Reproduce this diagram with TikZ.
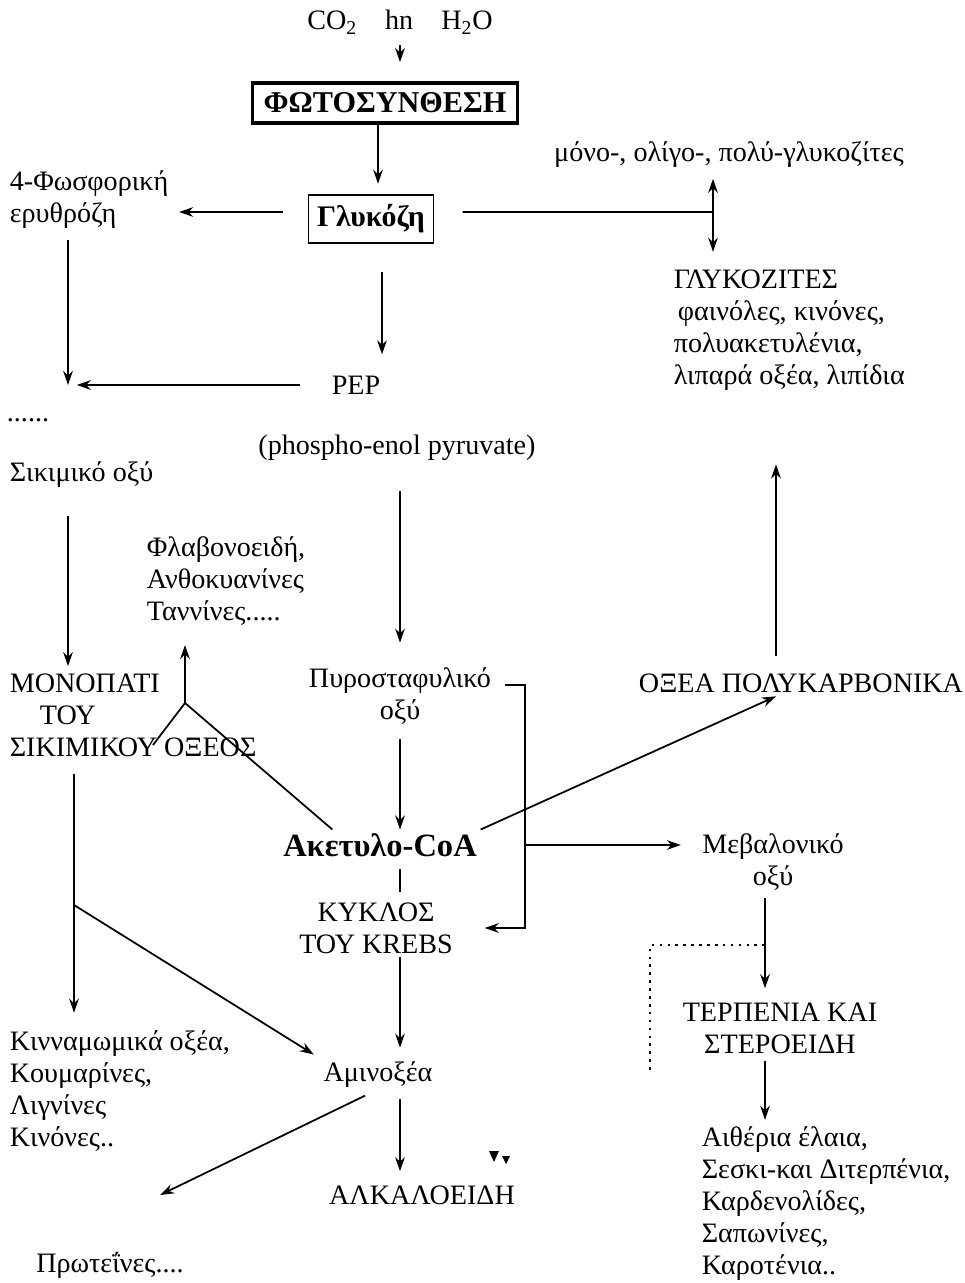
\documentclass[tikz,border=0pt]{standalone}
\usepackage{fontspec}
\setmainfont{Liberation Serif}
\usetikzlibrary{arrows.meta}

\begin{document}
\begin{tikzpicture}[x=0.02cm,y=-0.02cm,
          font=\fontsize{16}{18.2}\selectfont,
          txt/.style={inner sep=2pt},
          blk/.style={inner sep=2pt,align=left,anchor=west},
          box/.style={draw,inner sep=0pt,font=\fontsize{16}{18.2}\selectfont\bfseries},
          arr/.style={line width=1pt,-{Stealth[length=8pt,width=5.5pt]}},
          ln/.style={line width=1pt},
          dotln/.style={line width=1pt,dash pattern=on 1.5pt off 3pt}]
        \useasboundingbox (0,0) rectangle (964,1283);
        % top row
        \node[txt] (co2)   at (400,22)  {CO\textsubscript{2}\quad hn\quad H\textsubscript{2}O};
        \node[box,line width=1.8pt,minimum width=5.3cm,minimum height=0.8cm,font=\fontsize{17.2}{20}\selectfont\bfseries] (photo) at (385,103) {ΦΩΤΟΣΥΝΘΕΣΗ};
        \node[box,line width=1.1pt,minimum width=2.5cm,minimum height=0.95cm,font=\fontsize{17}{19}\selectfont\bfseries] (gluc) at (371,219) {Γλυκόζη};
        \node[blk] (fosf) at (6,200) {4-Φωσφορική\\ερυθρόζη};
        \node[txt] (glyk) at (729,155) {μόνο-, ολίγο-, πολύ-γλυκοζίτες};
        \node[blk] (glykoz) at (670,330) {ΓΛΥΚΟΖΙΤΕΣ\\\hspace*{0.08cm}φαινόλες, κινόνες,\\πολυακετυλένια,\\λιπαρά οξέα, λιπίδια};
        \node[txt] (pep)   at (356,385) {PEP};
        \node[txt] (dots)  at (28,420)  {......};
        \node[txt] (phos)  at (397,448) {(phospho-enol pyruvate)};
        \node[blk] (sikim) at (6,475)   {Σικιμικό οξύ};
        % middle
        \node[blk] (flav)  at (143,581) {Φλαβονοειδή,\\Ανθοκυανίνες\\Ταννίνες.....};
        \node[blk] (mono)  at (6,715)   {ΜΟΝΟΠΑΤΙ\\\hspace*{0.6cm}ΤΟΥ\\ΣΙΚΙΜΙΚΟΥ ΟΞΕΟΣ};
        \node[txt,align=center] (pyr) at (400,696) {Πυροσταφυλικό\\οξύ};
        \node[txt] (oxea)  at (801,683) {ΟΞΕΑ ΠΟΛΥΚΑΡΒΟΝΙΚΑ};
        \node[txt,font=\fontsize{18.5}{20}\selectfont\bfseries] (acet) at (380,845) {Ακετυλο-CoA};
        \node[txt,align=center] (meval) at (773,862) {Μεβαλονικό\\οξύ};
        \node[txt,align=center] (krebs) at (376,928) {ΚΥΚΛΟΣ\\ΤΟΥ KREBS};
        % bottom
        \node[blk] (kinn)  at (6,1091)  {Κινναμωμικά οξέα,\\Κουμαρίνες,\\Λιγνίνες\\Κινόνες..};
        \node[txt] (amino) at (378,1075) {Αμινοξέα};
        \node[txt,align=center] (terp) at (780,1028) {ΤΕΡΠΕΝΙΑ ΚΑΙ\\ΣΤΕΡΟΕΙΔΗ};
        \node[txt] (alk)   at (422,1195) {ΑΛΚΑΛΟΕΙΔΗ};
        \node[txt] (prot)  at (110,1265) {Πρωτεΐνες....};
        \node[blk] (aith)  at (698,1204) {Αιθέρια έλαια,\\Σεσκι-και Διτερπένια,\\Καρδενολίδες,\\Σαπωνίνες,\\Καροτένια..};
        % junctions and free ends
        \coordinate (j1) at (713,212);
        \coordinate (c1) at (68,385);
        \coordinate (y1) at (185,703);
        \coordinate (y2) at (153,745);
        \coordinate (c2) at (525,800);
        \coordinate (j2) at (74,905);
        \coordinate (c3) at (160,1195);
        \coordinate (j3) at (765,945);
        \coordinate (d1) at (650,1075);
        % connectors
        \draw[arr,shorten <=4pt,shorten >=11pt] (co2.south) -- (co2.south |- photo.north);
        \draw[arr,shorten >=6pt] (photo.south -| 378,0) -- (gluc.north -| 378,0);
        \draw[arr,shorten <=14pt,shorten >=4pt] ([yshift=0.14cm]gluc.west) -- ([yshift=0.14cm]gluc.west -| fosf.east);
        \draw[ln,shorten <=16pt] ([yshift=0.14cm]gluc.east) -- (j1);
        \draw[arr,shorten >=4pt] (j1) -- (j1 |- glyk.south);
        \draw[arr,shorten >=8pt] (j1) -- (j1 |- glykoz.north);
        \draw[arr,shorten <=16pt,shorten >=10pt] (gluc.south -| 382,0) -- (pep.north -| 382,0);
        \draw[arr,shorten <=16pt,shorten >=5pt] (pep.west) -- (c1);
        \draw[arr,shorten <=4pt] (fosf.south -| c1) -- (c1);
        \draw[arr,shorten <=14pt,shorten >=2pt] (sikim.south -| c1) -- (c1 |- mono.north);
        \draw[arr,shorten <=15pt,shorten >=12pt] (phos.south -| pyr) -- (pyr.north);
        \draw[arr,shorten >=9pt] (y1) -- (y1 |- flav.south);
        \draw[ln] (y1) -- (y2);
        \draw[ln] (y1) -- (acet.162);
        \draw[arr,shorten <=6pt,shorten >=16pt] ([yshift=0.22cm]pyr.east) -| (c2) |- (krebs.east);
        \draw[arr,shorten <=6pt] (pyr.south) -- (pyr.south |- acet.north);
        \draw[arr] (acet.north east) -- ([xshift=-0.5cm]oxea.south);
        \draw[arr,shorten <=8pt,shorten >=40pt] ([xshift=-0.5cm]oxea.north) -- ([xshift=-0.5cm]oxea.north |- glykoz.south);
        \draw[arr,shorten <=25pt,shorten >=10pt] (acet.east) -- (acet.east -| meval.west);
        \draw[ln,shorten <=5pt,shorten >=4pt] ([xshift=0.4cm]acet.south) -- ([xshift=0.4cm]acet.south |- krebs.north);
        \draw[arr,shorten >=6pt] ([xshift=0.48cm]krebs.south) -- ([xshift=0.48cm]krebs.south |- amino.north);
        \draw[arr,shorten <=4pt,shorten >=6pt] ([xshift=0.44cm]amino.south) -- ([xshift=0.44cm]amino.south |- alk.north);
        \draw[arr,shorten <=5pt] ([xshift=-0.1cm]amino.south) -- (c3);
        \draw[arr,shorten <=8pt,shorten >=8pt] (j2 |- mono.south) -- (j2 |- kinn.north);
        \draw[arr,shorten >=4pt] (j2) -- (amino.north west);
        \draw[arr,shorten <=2pt,shorten >=6pt] ([xshift=-0.16cm]meval.south) -- ([xshift=-0.16cm]meval.south |- terp.north);
        \draw[dotln] (j3) -| (d1);
        \draw[arr,shorten <=2pt,shorten >=2pt] (terp.south -| j3) -- (j3 |- aith.north);
        % stray marks
        \fill (489,1151) -- (499,1151) -- (494,1162) -- cycle;
        \fill (502,1156) -- (510,1156) -- (506,1164) -- cycle;
\end{tikzpicture}
\end{document}
